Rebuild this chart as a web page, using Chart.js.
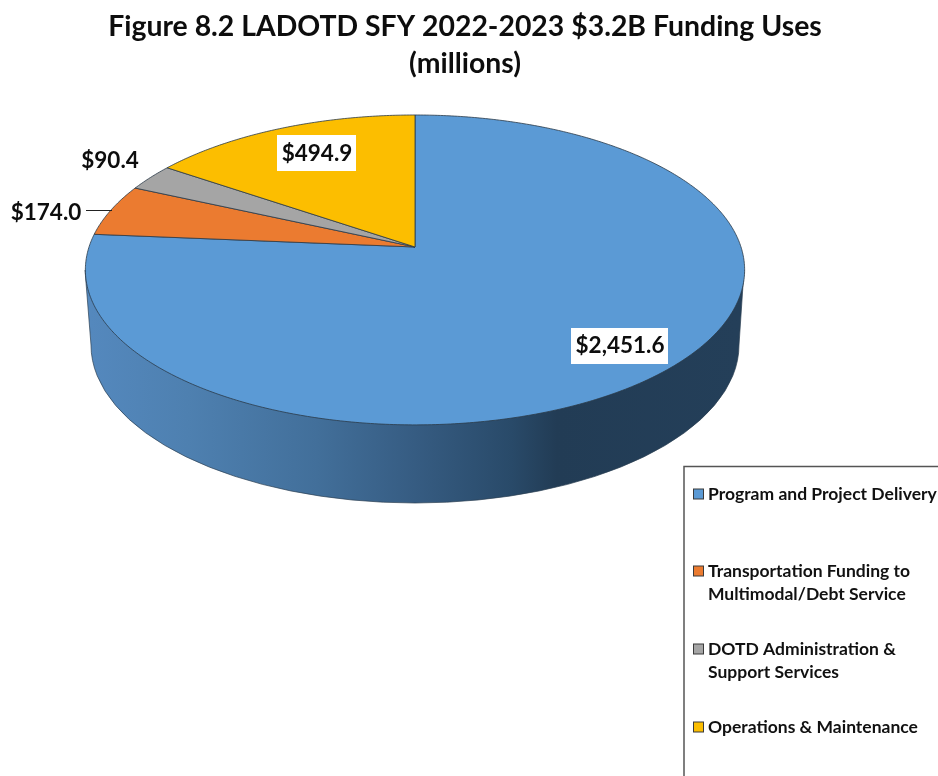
<!DOCTYPE html>
<html>
<head>
<meta charset="utf-8">
<script src="https://cdn.jsdelivr.net/npm/chart.js@4"></script>
<style>
  html, body { margin: 0; padding: 0; background: #fff; overflow: hidden; }
  canvas { display: block; }
</style>
</head>
<body>
<canvas id="fundingPie" width="938" height="776"></canvas>
<script>
const categories = ['Program and Project Delivery', 'Transportation Funding to Multimodal/Debt Service', 'DOTD Administration & Support Services', 'Operations & Maintenance'];
const fundingValues = [2451.6, 174.0, 90.4, 494.9]; // millions
const titleLines = ['Figure 8.2 LADOTD SFY 2022-2023 $3.2B Funding Uses', '(millions)'];
const legendLines = [['Program and Project Delivery'], ['Transportation Funding to', 'Multimodal/Debt Service'], ['DOTD Administration &', 'Support Services'], ['Operations & Maintenance']];

const sliceColors = ['#5b9ad5', '#eb7b30', '#a5a5a5', '#fcbe00'];
const FONT = 'Lato, Carlito, sans-serif';

// where the tilted pie sits on the page: perspective of a unit circle
const apexX = 415, apexY = 247, scaleX = 326, scaleY = 115, tilt = -0.148;
const project = (a) => {
    const d = 1 + tilt * Math.sin(a);
    return [apexX + scaleX * Math.cos(a) / d, (apexY + scaleY * Math.sin(a)) / d];
};

// data label placement, one per slice
const labelSpots = [
    { x: 620, y: 346, box: [571, 328, 97, 36] },
    { x: 46, y: 213 },
    { x: 110, y: 161 },
    { x: 317, y: 154, box: [277, 135, 79, 36] },
];
const legendY = [[494], [571, 594], [649, 672], [727]];

const money = (v) => '$' + v.toLocaleString('en-US', { minimumFractionDigits: 1, maximumFractionDigits: 1 });

const tiltedPie = {
    id: 'tiltedPie',
    beforeDatasetsDraw(chart) {
        // side wall, drawn under the slices
        const ctx = chart.ctx;
        const grad = ctx.createLinearGradient(91, 0, 738, 0);
        grad.addColorStop(0, '#5488bd');
        grad.addColorStop(0.15, '#4e80b0');
        grad.addColorStop(0.35, '#426f9a');
        grad.addColorStop(0.5, '#365c82');
        grad.addColorStop(0.65, '#294a69');
        grad.addColorStop(0.72, '#223c55');
        grad.addColorStop(1, '#243f59');
        ctx.save();
        ctx.beginPath();
        ctx.moveTo(85, 270);
        ctx.lineTo(91, 345);
        ctx.ellipse(415, 345, 324, 158, 0, Math.PI, 0, true);
        ctx.lineTo(744, 270);
        ctx.closePath();
        ctx.fillStyle = grad;
        ctx.fill();
        ctx.strokeStyle = '#2b3f52';
        ctx.lineWidth = 0.7;
        ctx.stroke();
        ctx.restore();
    },
    beforeDatasetDraw(chart, args) {
        // slices use the angles the pie controller worked out
        const ctx = chart.ctx;
        args.meta.data.forEach((arc, i) => {
            ctx.beginPath();
            ctx.moveTo(apexX, apexY);
            const steps = Math.ceil((arc.endAngle - arc.startAngle) / 0.01);
            for (let s = 0; s <= steps; s++) {
                const p = project(arc.startAngle + (arc.endAngle - arc.startAngle) * s / steps);
                ctx.lineTo(p[0], p[1]);
            }
            ctx.closePath();
            ctx.fillStyle = sliceColors[i];
            ctx.fill();
            ctx.strokeStyle = '#2b3a48';
            ctx.lineWidth = 0.8;
            ctx.stroke();
        });
        return false;
    },
    afterDraw(chart) {
        const ctx = chart.ctx;
        ctx.save();

        // leader line for the orange slice
        ctx.beginPath();
        ctx.moveTo(86, 210.5);
        ctx.lineTo(112, 210.5);
        ctx.strokeStyle = '#222';
        ctx.lineWidth = 1;
        ctx.stroke();

        // value labels
        ctx.font = 'bold 22.5px ' + FONT;
        ctx.textAlign = 'center';
        ctx.textBaseline = 'middle';
        fundingValues.forEach((v, i) => {
            const spot = labelSpots[i];
            if (spot.box) {
                ctx.fillStyle = '#fff';
                ctx.fillRect(spot.box[0], spot.box[1], spot.box[2], spot.box[3]);
            }
            ctx.fillStyle = '#0d0d0d';
            ctx.fillText(money(v), spot.x, spot.y);
        });

        // legend box runs off the page on the right and bottom
        ctx.strokeStyle = '#555';
        ctx.lineWidth = 1.5;
        ctx.strokeRect(684, 466.5, 300, 400);
        ctx.font = 'bold 17.5px ' + FONT;
        ctx.textAlign = 'left';
        legendLines.forEach((lines, i) => {
            ctx.fillStyle = sliceColors[i];
            ctx.fillRect(693.5, legendY[i][0] - 5, 10, 10);
            ctx.strokeStyle = '#3a3a3a';
            ctx.lineWidth = 1;
            ctx.strokeRect(693.5, legendY[i][0] - 5, 10, 10);
            ctx.fillStyle = '#111';
            lines.forEach((line, j) => ctx.fillText(line, 708, legendY[i][j]));
        });
        ctx.restore();
    },
};

new Chart(document.getElementById('fundingPie').getContext('2d'), {
    type: 'pie',
    data: {
        labels: categories,
        datasets: [{
            data: fundingValues,
            backgroundColor: sliceColors,
        }],
    },
    options: {
        responsive: false,
        animation: false,
        layout: { padding: { right: 8 } },
        plugins: {
            legend: { display: false },
            tooltip: { enabled: false },
            title: {
                display: true,
                text: titleLines,
                color: '#0d0d0d',
                font: { family: FONT, size: 28.4, weight: 'bold', lineHeight: 1.32 },
                padding: { top: 8, bottom: 10 },
            },
        },
    },
    plugins: [tiltedPie],
});
</script>
</body>
</html>
